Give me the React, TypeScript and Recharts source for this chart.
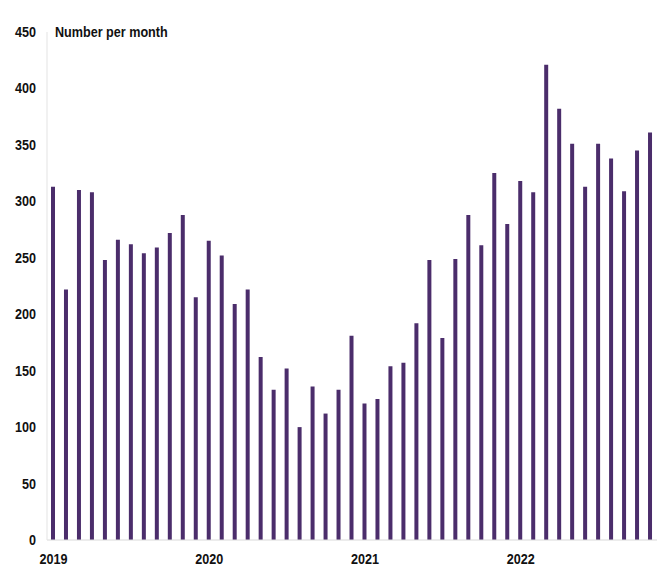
import { Bar, BarChart, XAxis, YAxis } from 'recharts'

const months = [
  'Jan 2019', 'Feb 2019', 'Mar 2019', 'Apr 2019', 'May 2019', 'Jun 2019', 'Jul 2019', 'Aug 2019', 'Sep 2019', 'Oct 2019', 'Nov 2019', 'Dec 2019',
  'Jan 2020', 'Feb 2020', 'Mar 2020', 'Apr 2020', 'May 2020', 'Jun 2020', 'Jul 2020', 'Aug 2020', 'Sep 2020', 'Oct 2020', 'Nov 2020', 'Dec 2020',
  'Jan 2021', 'Feb 2021', 'Mar 2021', 'Apr 2021', 'May 2021', 'Jun 2021', 'Jul 2021', 'Aug 2021', 'Sep 2021', 'Oct 2021', 'Nov 2021', 'Dec 2021',
  'Jan 2022', 'Feb 2022', 'Mar 2022', 'Apr 2022', 'May 2022', 'Jun 2022', 'Jul 2022', 'Aug 2022', 'Sep 2022', 'Oct 2022', 'Nov 2022',
]

const counts = [
  313, 222, 310, 308, 248, 266, 262, 254, 259, 272, 288, 215,
  265, 252, 209, 222, 162, 133, 152, 100, 136, 112, 133, 181,
  121, 125, 154, 157, 192, 248, 179, 249, 288, 261, 325, 280,
  318, 308, 421, 382, 351, 313, 351, 338, 309, 345, 361,
]

const yTicks = [0, 50, 100, 150, 200, 250, 300, 350, 400, 450]

const rows = months.map((month, i) => ({ month, value: counts[i] }))

const font = "'Liberation Sans', Arial, sans-serif"
const squeeze = 0.9

// labels in the source look slightly condensed, so squash them horizontally
function CondensedTick(props: any) {
  const { x, y, payload, textAnchor, side } = props
  const label = side === 'x' ? String(payload.value).slice(4) : String(payload.value)
  return (
    <text
      transform={`translate(${x},${y}) scale(${squeeze},1)`}
      textAnchor={textAnchor}
      dy={side === 'x' ? '0.71em' : '0.355em'}
      fill="#111"
      fontSize={14}
      fontWeight={700}
      fontFamily={font}
    >
      {label}
    </text>
  )
}

export default function App() {
  return (
    <div style={{ position: 'absolute', left: 0, top: 0, width: 662, height: 567, background: '#fff' }}>
      <BarChart width={662} height={567} data={rows} margin={{ top: 32, right: 5, bottom: 0, left: 0 }} barCategoryGap={0}>
        <XAxis
          dataKey="month"
          height={27}
          interval={11}
          tickLine={false}
          axisLine={{ stroke: '#d9d9d9' }}
          tick={<CondensedTick side="x" />}
          tickMargin={8}
        />
        <YAxis
          width={47}
          domain={[0, 450]}
          ticks={yTicks}
          interval={0}
          tickLine={false}
          axisLine={{ stroke: '#e3e3e3' }}
          tick={<CondensedTick side="y" />}
          tickMargin={5}
        />
        <Bar dataKey="value" fill="#4b2d6b" barSize={4} isAnimationActive={false} />
      </BarChart>
      <div
        style={{
          position: 'absolute',
          left: 55,
          top: 24,
          fontFamily: font,
          fontWeight: 700,
          fontSize: 14,
          color: '#111',
          whiteSpace: 'nowrap',
          transform: `scaleX(${squeeze})`,
          transformOrigin: 'left top',
        }}
      >
        Number per month
      </div>
    </div>
  )
}
